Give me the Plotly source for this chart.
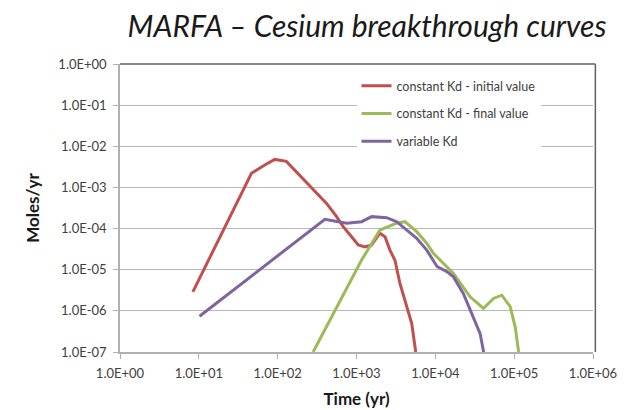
import plotly.graph_objects as go

# ---- data ----
red_x = [8.4, 46.5, 68.6, 92, 129, 173, 191, 296, 417, 559, 678, 866, 1052, 1279, 1556, 1982, 2296, 2656, 3076, 3550, 4120, 5020, 5640]
red_y = [2.9e-6, 2.2e-3, 3.5e-3, 4.8e-3, 4.3e-3, 2.4e-3, 2.0e-3, 7.9e-4, 4.1e-4, 1.95e-4, 1.11e-4, 6.3e-5, 4.0e-5, 3.6e-5, 4.0e-5, 7.7e-5, 6.3e-5, 3.0e-5, 1.7e-5, 4.7e-6, 1.8e-6, 4.9e-7, 1.0e-7]

green_x = [282, 1161, 1982, 3233, 4120, 5805, 7780, 9440, 17000, 27600, 40800, 54600, 69800, 89000, 103000, 114000]
green_y = [1.0e-7, 1.72e-5, 9.2e-5, 1.35e-4, 1.47e-4, 8.4e-5, 4.4e-5, 2.5e-5, 8.1e-6, 2.2e-6, 1.15e-6, 2.0e-6, 2.4e-6, 1.26e-6, 4.1e-7, 1.0e-7]

purple_x = [10.2, 397, 748, 1161, 1556, 2412, 3233, 4334, 5805, 7780, 10500, 14000, 17000, 22700, 30300, 37000, 41000]
purple_y = [7.4e-7, 1.68e-4, 1.35e-4, 1.47e-4, 1.95e-4, 1.84e-4, 1.47e-4, 9.2e-5, 5.8e-5, 3.0e-5, 1.2e-5, 9.0e-6, 6.7e-6, 2.6e-6, 7.1e-7, 2.8e-7, 1.0e-7]

series_names = ["constant Kd - initial value", "constant Kd - final value", "variable Kd"]

x_tickvals = [1e0, 1e1, 1e2, 1e3, 1e4, 1e5, 1e6]
x_ticktext = ["1.0E+00", "1.0E+01", "1.0E+02", "1.0E+03", "1.0E+04", "1.0E+05", "1.0E+06"]
y_tickvals = [1e0, 1e-1, 1e-2, 1e-3, 1e-4, 1e-5, 1e-6, 1e-7]
y_ticktext = ["1.0E+00", "1.0E-01", "1.0E-02", "1.0E-03", "1.0E-04", "1.0E-05", "1.0E-06", "1.0E-07"]

colors = ["#c0504d", "#9bbb59", "#8064a2"]

FONT = "Lato"
TXT = "#404040"

fig = go.Figure()
for i, (xs, ys) in enumerate([(red_x, red_y), (green_x, green_y), (purple_x, purple_y)]):
    fig.add_trace(go.Scatter(
        x=xs, y=ys, mode="lines", name=series_names[i],
        legendgroup=f"g{i}",
        line=dict(color=colors[i], width=3),
    ))

# page body has an 8px default margin, so the figure is sized/offset to compensate
fig.update_layout(
    width=619, height=402,
    paper_bgcolor="white", plot_bgcolor="white",
    margin=dict(l=112, r=34, t=56, b=58),
    title=dict(
        text="<i>MARFA – Cesium breakthrough curves</i>",
        font=dict(family=FONT, size=30, color="#1a1a1a"),
        x=0.58, xanchor="center", y=0.955, yanchor="middle",
    ),
    showlegend=True,
    legend=dict(
        x=0.50, xanchor="left", y=0.975, yanchor="top",
        bgcolor="white", borderwidth=0,
        font=dict(family=FONT, size=12.5, color=TXT),
        traceorder="grouped", tracegroupgap=8.5,
        itemwidth=30,
    ),
    xaxis=dict(
        type="log", range=[0, 6], automargin=False,
        tickvals=x_tickvals, ticktext=x_ticktext,
        tickfont=dict(family=FONT, size=13, color=TXT),
        ticks="outside", ticklen=5, tickcolor="#b0b0b0",
        ticklabelstandoff=4,
        showgrid=False, zeroline=False,
        showline=True, linecolor="#b0b0b0", linewidth=1.5,
        title=dict(text="<b>Time (yr)</b>", font=dict(family=FONT, size=17, color="#1a1a1a"), standoff=13),
    ),
    yaxis=dict(
        type="log", range=[-7, 0], automargin=False,
        tickvals=y_tickvals, ticktext=y_ticktext,
        tickfont=dict(family=FONT, size=13, color=TXT),
        ticks="outside", ticklen=5, tickcolor="#b0b0b0",
        ticklabelstandoff=4,
        showgrid=True, gridcolor="#b8b8b8", gridwidth=1,
        zeroline=False,
        showline=True, linecolor="#b0b0b0", linewidth=1.5,
        title=dict(text="<b>Moles/yr</b>", font=dict(family=FONT, size=17, color="#1a1a1a"), standoff=14),
    ),
    shapes=[
        dict(type="line", xref="paper", yref="paper", x0=0, x1=1.005, y0=1, y1=1,
             line=dict(color="#606060", width=1.5), layer="above"),
        dict(type="line", xref="paper", yref="paper", x0=1.005, x1=1.005, y0=0, y1=1,
             line=dict(color="#606060", width=1.5), layer="above"),
    ],
)

fig.write_html("out.html")
